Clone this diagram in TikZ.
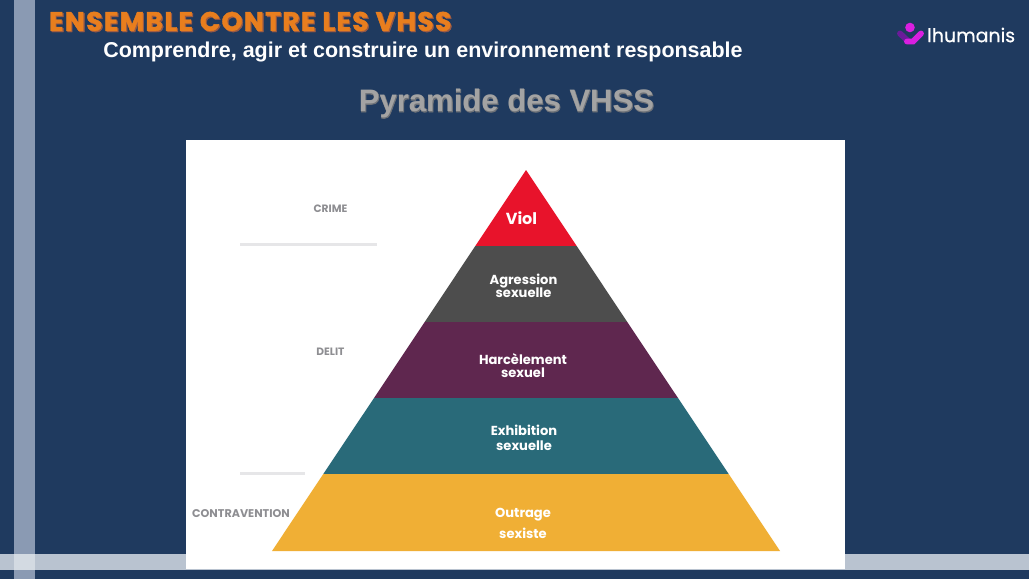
\documentclass[tikz,border=0pt]{standalone}
\usepackage{fontspec}
\setmainfont{Liberation Sans}
\newfontfamily\pop{Poppins}
\newfontfamily\popheavy[FakeBold=1.6,LetterSpace=5]{Poppins}
\newfontfamily\popmed[FakeBold=0.5]{Poppins}
\newfontfamily\headline[FakeBold=2.2]{Liberation Sans}
\definecolor{navy}{HTML}{1F3A5F}
\definecolor{bandv}{HTML}{8A9AB3}
\definecolor{bandh}{HTML}{B9C3D0}
\definecolor{bandx}{HTML}{D3DAE2}
\definecolor{orangett}{HTML}{E87E1E}
\definecolor{shadowtt}{HTML}{9A5A45}
\definecolor{greyttl}{HTML}{A3A3A3}
\definecolor{greyedge}{HTML}{6E7278}
\definecolor{greylbl}{HTML}{8E8E92}
\definecolor{ruleg}{HTML}{E6E6E8}
\definecolor{viol}{HTML}{E8132B}
\definecolor{agr}{HTML}{4D4D4D}
\definecolor{harc}{HTML}{5F274F}
\definecolor{exhi}{HTML}{296A79}
\definecolor{outr}{HTML}{F0AF35}
\definecolor{logoa}{HTML}{D91FE0}
\definecolor{logob}{HTML}{6A1B9A}
\begin{document}
\begin{tikzpicture}[
    x=0.75pt, y=-0.75pt,
    ttl/.style={font=\popheavy\bfseries\fontsize{20}{21}\selectfont, inner sep=0pt, anchor=west},
    lvl/.style={font=\pop\bfseries\fontsize{9.8}{11}\selectfont, text=white, align=center, inner sep=0pt},
    side/.style={font=\pop\bfseries\fontsize{8}{9}\selectfont, text=greylbl, inner sep=0pt},
    sep/.style={ruleg, line width=1.6pt}
]
\useasboundingbox (0,0) rectangle (1029,579);

% background and bands
\fill[navy] (0,0) rectangle (1029,579);
\fill[bandh] (0,554) rectangle (1029,570);
\fill[bandv] (14,0) rectangle (35,579);
\fill[bandx] (14,554) rectangle (35,570);

% headings
\node[ttl, text=shadowtt] (titleshadow) at (50,22.6) {ENSEMBLE CONTRE LES VHSS};
\node[ttl, text=orangett] (title) at (48.8,21.4) {ENSEMBLE CONTRE LES VHSS};
\node[font=\bfseries\fontsize{16.1}{18}\selectfont, text=white, inner sep=0pt, anchor=west] (subtitle) at (103,52) {Comprendre, agir et construire un environnement responsable};
\node[font=\headline\bfseries\fontsize{23.3}{25}\selectfont, text=greyedge, inner sep=0pt] (headshadow) at (507,104) {Pyramide des VHSS};
\node[font=\bfseries\fontsize{23.3}{25}\selectfont, text=greyttl, inner sep=0pt] (head) at (506.5,103.5) {Pyramide des VHSS};

% logo
\fill[logoa] (910,27.5) circle (4.8);
\draw[logob, line width=4.4pt, line cap=round] (900,33.5) -- (908,41);
\draw[logoa, line width=4.4pt, line cap=round] (907,41.5) -- (913,41.5) -- (921,33.5);
\node[font=\popmed\fontsize{14.2}{16}\selectfont, text=white, inner sep=0pt, anchor=west] (logotext) at (927,35) {lhumanis};

% picture sheet
\fill[white] (186,140) rectangle (845,569);

% pyramid, top to bottom
\fill[viol] (526,170) -- (576.7,246) -- (475.3,246) -- cycle;
\fill[agr] (475.3,246) -- (576.7,246) -- (627.3,322) -- (424.7,322) -- cycle;
\fill[harc] (424.7,322) -- (627.3,322) -- (678,398) -- (374,398) -- cycle;
\fill[exhi] (374,398) -- (678,398) -- (728.7,474) -- (323.3,474) -- cycle;
\fill[outr] (323.3,474) -- (728.7,474) -- (780,551) -- (272,551) -- cycle;

% level names
\node[lvl, font=\pop\bfseries\fontsize{12}{14}\selectfont] (violtxt) at (521.5,218) {Viol};
\node[lvl] (agrtxt) at (523.5,285.5) {Agression\\[-1.5pt]sexuelle};
\node[lvl] (harctxt) at (523,365.5) {Harcèlement\\[-1.5pt]sexuel};
\node[lvl] (exhitxt) at (524,438) {Exhibition\\sexuelle};
\node[lvl] (outrtxt) at (523,523.5) {Outrage\\[5pt]sexiste};

% legal categories
\node[side] (crime) at (330.5,209) {CRIME};
\node[side] (delit) at (330.5,352) {DELIT};
\node[side, font=\pop\bfseries\fontsize{8.4}{9}\selectfont] (contra) at (241,514) {CONTRAVENTION};
\draw[sep] (240,244.5) -- (377,244.5);
\draw[sep] (240,473.5) -- (305,473.5);

\end{tikzpicture}
\end{document}
